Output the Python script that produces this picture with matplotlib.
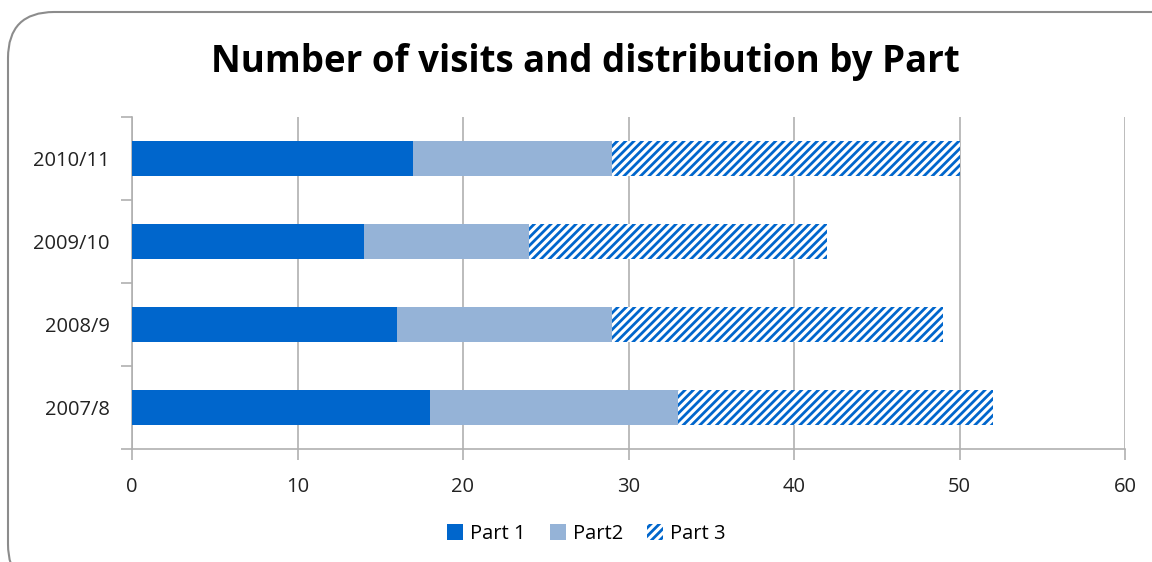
import matplotlib
matplotlib.use('Agg')
from matplotlib import pyplot as plt
from matplotlib.patches import FancyBboxPatch
import numpy as np

years = ['2007/8', '2008/9', '2009/10', '2010/11']
part1 = [18, 16, 14, 17]
part2 = [15, 13, 10, 12]
part3 = [19, 20, 18, 21]

blue = '#0066CC'
light = '#95B3D7'
grey = '#B0B0B0'

plt.rcParams['font.family'] = ['Open Sans', 'DejaVu Sans']
plt.rcParams['hatch.linewidth'] = 2.0

fig = plt.figure(figsize=(11.52, 5.62), dpi=100)
frame = FancyBboxPatch((8 / 1152, -0.05), 1.2, 1.05 - 12 / 562,
                       boxstyle='round,pad=0,rounding_size=0.04',
                       transform=fig.transFigure, facecolor='white',
                       edgecolor='#8C8C8C', linewidth=1.5, mutation_aspect=2.05,
                       zorder=-10)
fig.patches.append(frame)

ax = fig.add_axes([132 / 1152, 113 / 562, 993 / 1152, 332 / 562])
ax.set_facecolor('none')
ax.set_zorder(1)
y = np.arange(len(years))
left2 = np.array(part1)
left3 = left2 + np.array(part2)
ax.barh(y, part1, height=0.41, color=blue, label='Part 1', zorder=3)
ax.barh(y, part2, left=left2, height=0.41, color=light, label='Part2', zorder=3)
ax.barh(y, part3, left=left3, height=0.41, color='white', edgecolor=blue,
        hatch='////', linewidth=0, label='Part 3', zorder=3)

ax.set_xlim(0, 60)
ax.set_ylim(-0.5, 3.5)
ax.set_xticks(range(0, 61, 10))
ax.set_yticks(y)
ax.set_yticklabels(years)
ax.set_yticks(np.arange(-0.5, 3.6, 1), minor=True)
ax.tick_params(axis='y', which='major', length=0, pad=16, labelsize=14.5, labelcolor='#222222')
ax.tick_params(axis='y', which='minor', length=8, color=grey, width=1.2)
ax.tick_params(axis='x', length=8, color=grey, width=1.2, pad=12, labelsize=14.5, labelcolor='#222222')
ax.grid(axis='x', color=grey, linewidth=1.2, zorder=0)
for s in ['top', 'right']:
    ax.spines[s].set_visible(False)
for s in ['left', 'bottom']:
    ax.spines[s].set_color(grey)
    ax.spines[s].set_linewidth(1.2)

fig.text(0.508, 0.89, 'Number of visits and distribution by Part', ha='center', va='center',
         fontsize=26.4, fontweight='bold', color='black')

handles, labels = ax.get_legend_handles_labels()
fig.legend(handles, labels, loc='center', bbox_to_anchor=(0.509, 0.05), ncol=3, frameon=False,
           fontsize=14.5, handlelength=0.8, handleheight=0.8, handletextpad=0.35,
           columnspacing=1.2)

fig.savefig('out.png', dpi=100)
